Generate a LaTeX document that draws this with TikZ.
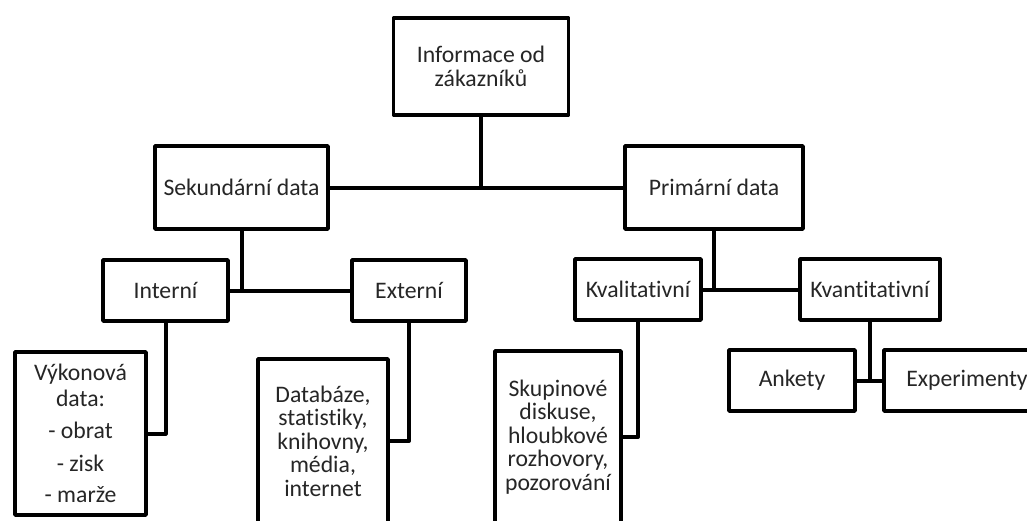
\documentclass[tikz,border=0pt]{standalone}
\usepackage{fontspec}
\setmainfont{Carlito}[RawFeature={-liga}]
\begin{document}
\begin{tikzpicture}[x=1pt,y=-1pt,
  box/.style={draw=black,line width=3.8pt,line join=round,fill=white,inner sep=0pt,
    align=center,font=\fontsize{23.7}{23.5}\selectfont,text=black!85},
  conn/.style={draw=black,line width=4pt,line join=round}]
\useasboundingbox (0,0) rectangle (1027,520);
\clip (0,0) rectangle (1027,520);
\fill[white] (0,0) rectangle (1027,520);
\node[box,minimum width=175pt,minimum height=97pt] (info) at (481,66.5) {Informace od\\zákazníků};
\node[box,minimum width=173pt,minimum height=83pt] (sek) at (241.5,187.5) {Sekundární data};
\node[box,minimum width=178pt,minimum height=83pt] (prim) at (714,187.5) {Primární data};
\node[box,minimum width=125pt,minimum height=61pt] (int) at (165.5,290.5) {Interní};
\node[box,minimum width=114pt,minimum height=61pt] (ext) at (409,290.5) {Externí};
\node[box,minimum width=126pt,minimum height=61pt] (kval) at (638,289.5) {Kvalitativní};
\node[box,minimum width=140pt,minimum height=61pt] (kvant) at (870,289.5) {Kvantitativní};
\node[box,minimum width=131pt,minimum height=163pt] (vyk) at (80.5,433.5) {Výkonová\\[2pt]data:\\[9pt]- obrat\\[9pt]- zisk\\[8pt]- marže};
\node[box,minimum width=130pt,minimum height=164pt] (dat) at (323,441) {Databáze,\\statistiky,\\knihovny,\\média,\\internet};
\node[box,minimum width=126pt,minimum height=172pt] (skup) at (558,437) {Skupinové\\diskuse,\\hloubkové\\rozhovory,\\pozorování};
\node[box,minimum width=126pt,minimum height=61pt] (ank) at (792,380.5) {Ankety};
\node[box,minimum width=166pt,minimum height=61pt] (exp) at (967,380.5) {Experimenty};
% connectors
\draw[conn] (sek.east) -- (prim.west);
\draw[conn] (info.south) -- (info.south |- sek.east);
\draw[conn] (int.east) -- (ext.west);
\draw[conn] (sek.south) -- (sek.south |- int.east);
\draw[conn] (kval.east) -- (kvant.west);
\draw[conn] (prim.south) -- (prim.south |- kval.east);
\draw[conn] (int.south) |- (vyk.east);
\draw[conn] (ext.south) |- (dat.east);
\draw[conn] (kval.south) |- (skup.east);
\draw[conn] (ank.east) -- (exp.west);
\draw[conn] (kvant.south) -- (kvant.south |- ank.east);
\end{tikzpicture}
\end{document}
